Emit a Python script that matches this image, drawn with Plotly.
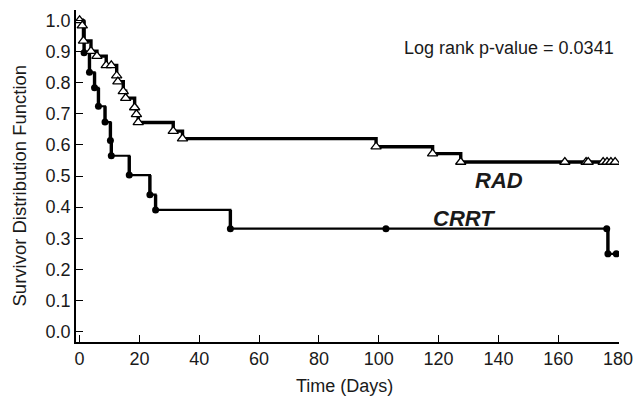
import plotly.graph_objects as go

# RAD group: Kaplan-Meier step points (time in days, survival)
rad_time = [0, 0.9, 1.3, 3.8, 5.8, 8.9, 10.6, 12.4, 12.8, 14.6, 15.4, 18.4, 19.0, 19.6,
            31.3, 34.4, 99.1, 118.0, 127.4, 162.2, 169.3, 170.0, 175.0, 176.3, 177.6, 179.0]
rad_surv = [1.0, 0.983, 0.934, 0.901, 0.885, 0.855, 0.855, 0.822, 0.803, 0.772, 0.750, 0.720, 0.698, 0.672,
            0.644, 0.620, 0.594, 0.572, 0.545, 0.545, 0.545, 0.545, 0.545, 0.545, 0.545, 0.545]

# CRRT group
crrt_time = [0, 1.5, 3.3, 5.0, 6.3, 8.5, 10.3, 10.6, 16.6, 23.5, 25.4, 50.4, 102.4, 176.2, 176.6, 179.4]
crrt_surv = [1.0, 0.896, 0.833, 0.783, 0.724, 0.673, 0.614, 0.565, 0.503, 0.440, 0.391, 0.331, 0.331, 0.331, 0.250, 0.250]

x_ticks = [0, 20, 40, 60, 80, 100, 120, 140, 160, 180]
y_ticks = [0.0, 0.1, 0.2, 0.3, 0.4, 0.5, 0.6, 0.7, 0.8, 0.9, 1.0]

FONT = "Liberation Sans, Arial, sans-serif"
INK = "#1a1a1a"

# vertical drop segments of the CRRT curve (drawn a bit heavier, as in the scan)
crrt_vx, crrt_vy = [], []
for i in range(1, len(crrt_time)):
    if crrt_surv[i] != crrt_surv[i - 1]:
        crrt_vx += [crrt_time[i], crrt_time[i], None]
        crrt_vy += [crrt_surv[i - 1], crrt_surv[i], None]

fig = go.Figure()

fig.add_trace(go.Scatter(
    x=crrt_time, y=crrt_surv, mode="lines", line=dict(shape="hv", color="black", width=2.2),
    hoverinfo="skip", showlegend=False))
fig.add_trace(go.Scatter(
    x=crrt_vx, y=crrt_vy, mode="lines", line=dict(color="black", width=3.4),
    hoverinfo="skip", showlegend=False))
fig.add_trace(go.Scatter(
    x=crrt_time[1:], y=crrt_surv[1:], mode="markers",
    marker=dict(symbol="circle", size=7, color="black"), showlegend=False))

fig.add_trace(go.Scatter(
    x=rad_time, y=rad_surv, mode="lines", line=dict(shape="hv", color="black", width=3.4),
    hoverinfo="skip", showlegend=False))
fig.add_trace(go.Scatter(
    x=rad_time, y=rad_surv, mode="markers",
    marker=dict(symbol="triangle-up", size=9, color="white", line=dict(color="black", width=1.3)),
    showlegend=False))

fig.add_annotation(x=143.5, y=0.911, text="Log rank p-value = 0.0341", showarrow=False,
                   font=dict(family=FONT, size=18, color=INK))
fig.add_annotation(x=140.3, y=0.487, text="<b><i>RAD</i></b>", showarrow=False,
                   font=dict(family=FONT, size=22, color=INK))
fig.add_annotation(x=128.5, y=0.362, text="<b><i>CRRT</i></b>", showarrow=False,
                   font=dict(family=FONT, size=22, color=INK))

# axis titles placed as paper annotations
fig.add_annotation(xref="paper", yref="paper", x=-0.104, y=0.47, text="Survivor Distribution Function",
                   textangle=-90, showarrow=False, xanchor="center", yanchor="middle",
                   font=dict(family=FONT, size=18.5, color=INK))
fig.add_annotation(xref="paper", yref="paper", x=0.495, y=-0.132, text="Time (Days)",
                   showarrow=False, xanchor="center", yanchor="middle",
                   font=dict(family=FONT, size=18, color=INK))

# the page body has an 8px margin, so the figure is sized to end at the window edge
fig.update_layout(
    width=636, height=393,
    margin=dict(l=68, r=25, t=2, b=59),
    paper_bgcolor="white", plot_bgcolor="white",
    font=dict(family=FONT, size=18, color=INK),
    xaxis=dict(range=[-1.2, 180.3], tickvals=x_ticks, ticktext=[str(v) for v in x_ticks],
               ticks="inside", ticklen=7, tickwidth=1.3, tickcolor="black",
               tickfont=dict(size=18), automargin=False,
               showline=True, linecolor="black", linewidth=1.5, showgrid=False, zeroline=False),
    yaxis=dict(range=[-0.033, 1.033], tickvals=y_ticks, ticktext=[f"{v:.1f}" for v in y_ticks],
               ticks="inside", ticklen=7, tickwidth=1.3, tickcolor="black",
               tickfont=dict(size=18), automargin=False,
               showline=True, linecolor="black", linewidth=1.5, showgrid=False, zeroline=False),
)

fig.write_html("out.html")
